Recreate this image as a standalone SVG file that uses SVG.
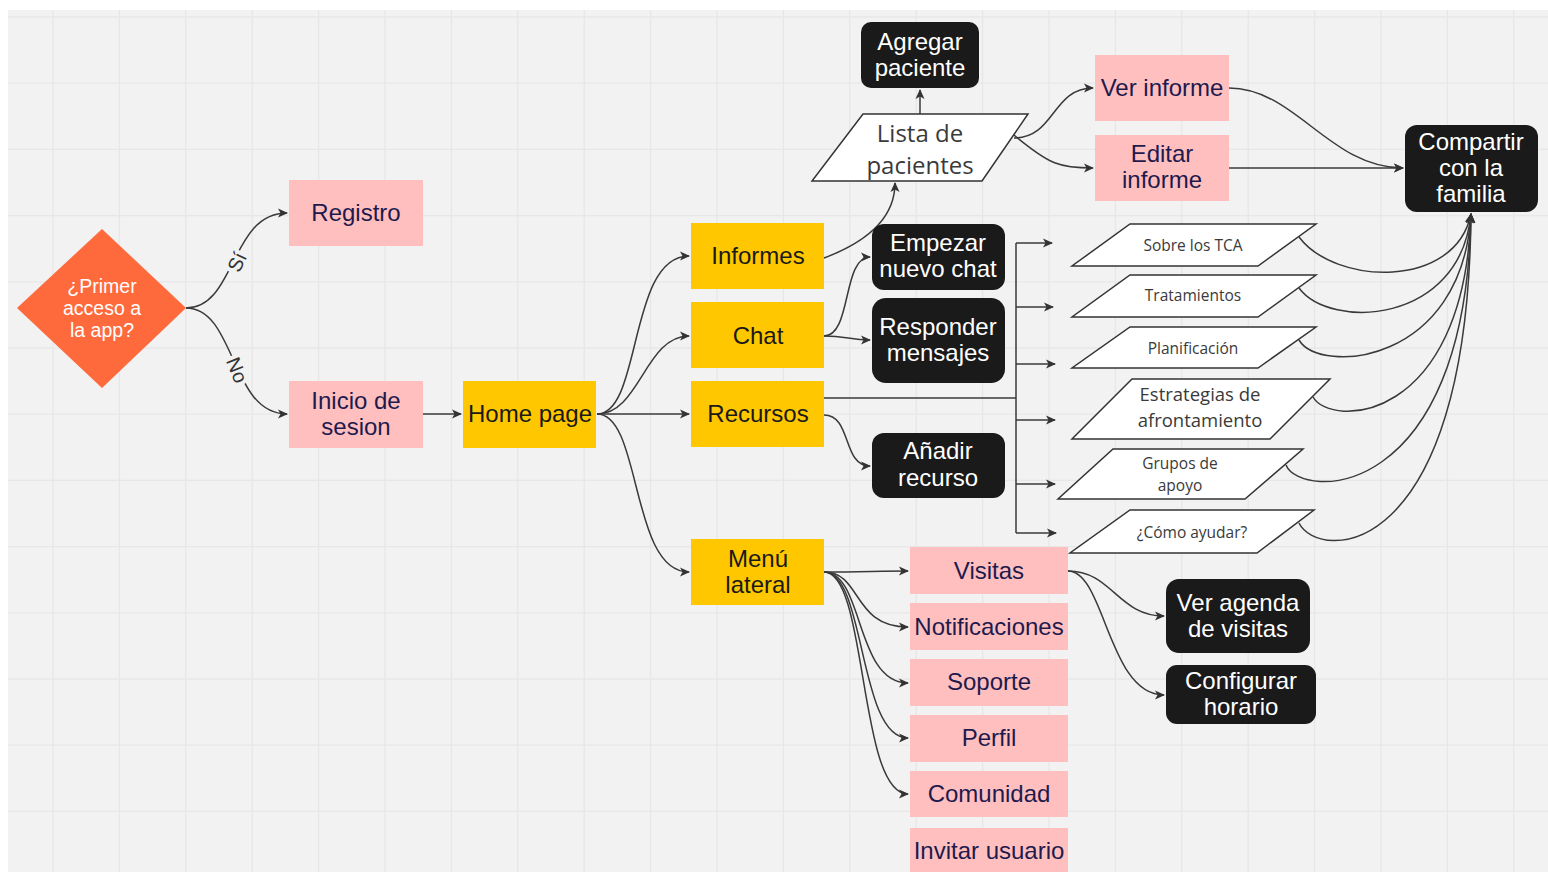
<svg xmlns="http://www.w3.org/2000/svg" width="1548" height="872" viewBox="0 0 1548 872">
<defs>
<marker id="arr" viewBox="0 0 10 10" refX="9" refY="5" markerWidth="10" markerHeight="10" markerUnits="userSpaceOnUse" orient="auto">
<path d="M0,0.5 L10,5 L0,9.5 L2.5,5 z" fill="#333"/>
</marker>
<style>
.grid line{stroke:#e7e7e7;stroke-width:1.3}
.pink{fill:#ffbfbf}
.yel{fill:#ffc700}
.blk{fill:#1a1a1a}
.par{fill:#fff;stroke:#333;stroke-width:1.5}
.t{font-family:"Liberation Sans",Arial,sans-serif;font-size:24px;text-anchor:middle}
.tp{fill:#1e1a4d}
.ty{fill:#1a1a1a}
.tw{fill:#fff}
.o{font-family:"Open Sans",sans-serif;fill:#3a3a3a;text-anchor:middle}
.c path{fill:none;stroke:#3a3a3a;stroke-width:1.5}
.c .a{marker-end:url(#arr)}
.lbl{font-family:"Liberation Sans",Arial,sans-serif;font-size:20px;fill:#333;text-anchor:middle;paint-order:stroke;stroke:#f2f2f2;stroke-width:8px}
</style>
</defs>
<rect width="1548" height="872" fill="#fff"/>
<rect x="8" y="10" width="1540" height="862" fill="#f2f2f2"/>
<g class="grid">
<line x1="53" y1="10" x2="53" y2="872"/><line x1="119.4" y1="10" x2="119.4" y2="872"/><line x1="185.8" y1="10" x2="185.8" y2="872"/><line x1="252.2" y1="10" x2="252.2" y2="872"/><line x1="318.6" y1="10" x2="318.6" y2="872"/><line x1="385" y1="10" x2="385" y2="872"/><line x1="451.4" y1="10" x2="451.4" y2="872"/><line x1="517.8" y1="10" x2="517.8" y2="872"/><line x1="584.2" y1="10" x2="584.2" y2="872"/><line x1="650.6" y1="10" x2="650.6" y2="872"/><line x1="717" y1="10" x2="717" y2="872"/><line x1="783.4" y1="10" x2="783.4" y2="872"/><line x1="849.8" y1="10" x2="849.8" y2="872"/><line x1="916.2" y1="10" x2="916.2" y2="872"/><line x1="982.6" y1="10" x2="982.6" y2="872"/><line x1="1049" y1="10" x2="1049" y2="872"/><line x1="1115.4" y1="10" x2="1115.4" y2="872"/><line x1="1181.8" y1="10" x2="1181.8" y2="872"/><line x1="1248.2" y1="10" x2="1248.2" y2="872"/><line x1="1314.6" y1="10" x2="1314.6" y2="872"/><line x1="1381" y1="10" x2="1381" y2="872"/><line x1="1447.4" y1="10" x2="1447.4" y2="872"/><line x1="1513.8" y1="10" x2="1513.8" y2="872"/>
<line x1="8" y1="17" x2="1548" y2="17"/><line x1="8" y1="83.2" x2="1548" y2="83.2"/><line x1="8" y1="149.4" x2="1548" y2="149.4"/><line x1="8" y1="215.6" x2="1548" y2="215.6"/><line x1="8" y1="281.8" x2="1548" y2="281.8"/><line x1="8" y1="348" x2="1548" y2="348"/><line x1="8" y1="414.2" x2="1548" y2="414.2"/><line x1="8" y1="480.4" x2="1548" y2="480.4"/><line x1="8" y1="546.6" x2="1548" y2="546.6"/><line x1="8" y1="612.8" x2="1548" y2="612.8"/><line x1="8" y1="679" x2="1548" y2="679"/><line x1="8" y1="745.2" x2="1548" y2="745.2"/><line x1="8" y1="811.4" x2="1548" y2="811.4"/>
</g>

<g class="c" id="connectors">
<path class="a" d="M186,308 C236,308 230,213 287,213"/>
<path class="a" d="M186,308 C236,308 230,414 287,414"/>
<path class="a" d="M423,414 L461,414"/>
<path class="a" d="M597,414 C642,414 628,256 689,256"/>
<path class="a" d="M597,414 C640,414 645,336 689,336"/>
<path class="a" d="M597,414 L689,414"/>
<path class="a" d="M597,414 C642,414 630,572 689,572"/>
<path class="a" d="M824,258 C872,240 895,215 895,183"/>
<path class="a" d="M920,114 L920,90"/>
<path class="a" d="M1014,138 C1055,138 1052,88 1093,88"/>
<path class="a" d="M1014,135 C1050,165 1060,168 1093,168"/>
<path class="a" d="M1229,88 C1295,88 1330,168 1403,168"/>
<path class="a" d="M1229,168 L1403,168"/>
<path class="a" d="M824,336 C852,336 842,257 870,257"/>
<path class="a" d="M824,336 C846,336 850,340 870,340"/>
<path class="a" d="M824,415 C852,415 842,466 870,466"/>
<path d="M824,398 L1016,398 M1016,243 L1016,533"/>
<path class="a" d="M1016,243 L1052,243"/>
<path class="a" d="M1016,307 L1053,307"/>
<path class="a" d="M1016,364 L1055,364"/>
<path class="a" d="M1016,420 L1055,420"/>
<path class="a" d="M1016,484 L1055,484"/>
<path class="a" d="M1016,533 L1056,533"/>
<path class="a" d="M1299,237 C1335,285 1455,290 1471,214"/>
<path class="a" d="M1299,288 C1330,330 1460,325 1471,214"/>
<path class="a" d="M1299,340 C1320,375 1462,365 1471,214"/>
<path class="a" d="M1313,397 C1330,428 1464,425 1471,214"/>
<path class="a" d="M1286,465 C1300,500 1466,505 1471,214"/>
<path class="a" d="M1299,523 C1318,562 1468,565 1471,214"/>
<path class="a" d="M824,572 C860,572 880,571 908,571"/>
<path class="a" d="M824,572 C862,572 852,627 908,627"/>
<path class="a" d="M824,572 C864,572 855,683 908,683"/>
<path class="a" d="M824,572 C866,572 858,738 908,738"/>
<path class="a" d="M824,572 C868,572 858,794 908,794"/>
<path class="a" d="M1068,571 C1112,571 1118,616 1164,616"/>
<path class="a" d="M1068,571 C1105,571 1108,695 1164,695"/>
<text class="lbl" transform="translate(237,262) rotate(-65)" y="7">Sí</text>
<text class="lbl" transform="translate(237,370) rotate(68)" y="7">No</text>
</g>

<g id="primer-acceso">
<polygon points="102,229 186,308 102,388 17,308" fill="#ff6a3d"/>
<text class="t tw" style="font-size:19.5px"><tspan x="102" y="293">¿Primer</tspan><tspan x="102" y="315">acceso a</tspan><tspan x="102" y="337">la app?</tspan></text>
</g>
<g id="registro"><rect class="pink" x="289" y="180" width="134" height="66"/><text class="t tp" x="356" y="221">Registro</text></g>
<g id="inicio-sesion"><rect class="pink" x="289" y="381" width="134" height="67"/><text class="t tp"><tspan x="356" y="409">Inicio de</tspan><tspan x="356" y="435">sesion</tspan></text></g>
<g id="home-page"><rect class="yel" x="463" y="381" width="133" height="67"/><text class="t ty" x="530" y="422">Home page</text></g>
<g id="informes"><rect class="yel" x="691" y="223" width="133" height="66"/><text class="t ty" x="758" y="264">Informes</text></g>
<g id="chat"><rect class="yel" x="691" y="302" width="133" height="66"/><text class="t ty" x="758" y="344">Chat</text></g>
<g id="recursos"><rect class="yel" x="691" y="381" width="133" height="66"/><text class="t ty" x="758" y="422">Recursos</text></g>
<g id="menu-lateral"><rect class="yel" x="691" y="539" width="133" height="66"/><text class="t ty"><tspan x="758" y="567">Menú</tspan><tspan x="758" y="593">lateral</tspan></text></g>

<g id="agregar-paciente"><rect class="blk" x="861" y="22" width="118" height="66" rx="10"/><text class="t tw"><tspan x="920" y="50">Agregar</tspan><tspan x="920" y="76">paciente</tspan></text></g>
<g id="lista-pacientes"><polygon class="par" points="863,114 1028,114 982,181 812,181"/><text class="o" style="font-size:24px"><tspan x="920" y="142">Lista de</tspan><tspan x="920" y="174">pacientes</tspan></text></g>
<g id="ver-informe"><rect class="pink" x="1095" y="55" width="134" height="66"/><text class="t tp" x="1162" y="96">Ver informe</text></g>
<g id="editar-informe"><rect class="pink" x="1095" y="135" width="134" height="66"/><text class="t tp"><tspan x="1162" y="162">Editar</tspan><tspan x="1162" y="188">informe</tspan></text></g>
<g id="compartir-familia"><rect class="blk" x="1405" y="125" width="133" height="87" rx="12"/><text class="t tw"><tspan x="1471" y="150">Compartir</tspan><tspan x="1471" y="176">con la</tspan><tspan x="1471" y="202">familia</tspan></text></g>

<g id="empezar-chat"><rect class="blk" x="872" y="224" width="133" height="66" rx="12"/><text class="t tw"><tspan x="938" y="251">Empezar</tspan><tspan x="938" y="277">nuevo chat</tspan></text></g>
<g id="responder-mensajes"><rect class="blk" x="872" y="298" width="133" height="85" rx="14"/><text class="t tw"><tspan x="938" y="335">Responder</tspan><tspan x="938" y="361">mensajes</tspan></text></g>
<g id="anadir-recurso"><rect class="blk" x="872" y="433" width="133" height="65" rx="12"/><text class="t tw"><tspan x="938" y="459">Añadir</tspan><tspan x="938" y="486">recurso</tspan></text></g>

<g id="sobre-tca"><polygon class="par" points="1130,224 1316,224 1258,266 1072,266"/><text class="o" style="font-size:15.5px" x="1193" y="251">Sobre los TCA</text></g>
<g id="tratamientos"><polygon class="par" points="1130,275 1316,275 1258,317 1072,317"/><text class="o" style="font-size:15.5px" x="1193" y="301">Tratamientos</text></g>
<g id="planificacion"><polygon class="par" points="1130,327 1316,327 1258,368 1072,368"/><text class="o" style="font-size:15.5px" x="1193" y="354">Planificación</text></g>
<g id="estrategias"><polygon class="par" points="1132,379 1330,379 1270,439 1072,439"/><text class="o" style="font-size:18.5px"><tspan x="1200" y="401">Estrategias de</tspan><tspan x="1200" y="427">afrontamiento</tspan></text></g>
<g id="grupos-apoyo"><polygon class="par" points="1113,449 1303,449 1245,499 1058,499"/><text class="o" style="font-size:15.5px"><tspan x="1180" y="469">Grupos de</tspan><tspan x="1180" y="491">apoyo</tspan></text></g>
<g id="como-ayudar"><polygon class="par" points="1130,510 1314,510 1257,553 1070,553"/><text class="o" style="font-size:15.5px" x="1192" y="538">¿Cómo ayudar?</text></g>

<g id="visitas"><rect class="pink" x="910" y="547" width="158" height="47"/><text class="t tp" x="989" y="579">Visitas</text></g>
<g id="notificaciones"><rect class="pink" x="910" y="603" width="158" height="47"/><text class="t tp" x="989" y="635">Notificaciones</text></g>
<g id="soporte"><rect class="pink" x="910" y="659" width="158" height="47"/><text class="t tp" x="989" y="690">Soporte</text></g>
<g id="perfil"><rect class="pink" x="910" y="715" width="158" height="47"/><text class="t tp" x="989" y="746">Perfil</text></g>
<g id="comunidad"><rect class="pink" x="910" y="771" width="158" height="46"/><text class="t tp" x="989" y="802">Comunidad</text></g>
<g id="invitar-usuario"><rect class="pink" x="910" y="828" width="158" height="50"/><text class="t tp" x="989" y="859">Invitar usuario</text></g>

<g id="ver-agenda"><rect class="blk" x="1166" y="579" width="144" height="74" rx="13"/><text class="t tw"><tspan x="1238" y="611">Ver agenda</tspan><tspan x="1238" y="637">de visitas</tspan></text></g>
<g id="configurar-horario"><rect class="blk" x="1166" y="665" width="150" height="59" rx="11"/><text class="t tw"><tspan x="1241" y="689">Configurar</tspan><tspan x="1241" y="715">horario</tspan></text></g>
</svg>
